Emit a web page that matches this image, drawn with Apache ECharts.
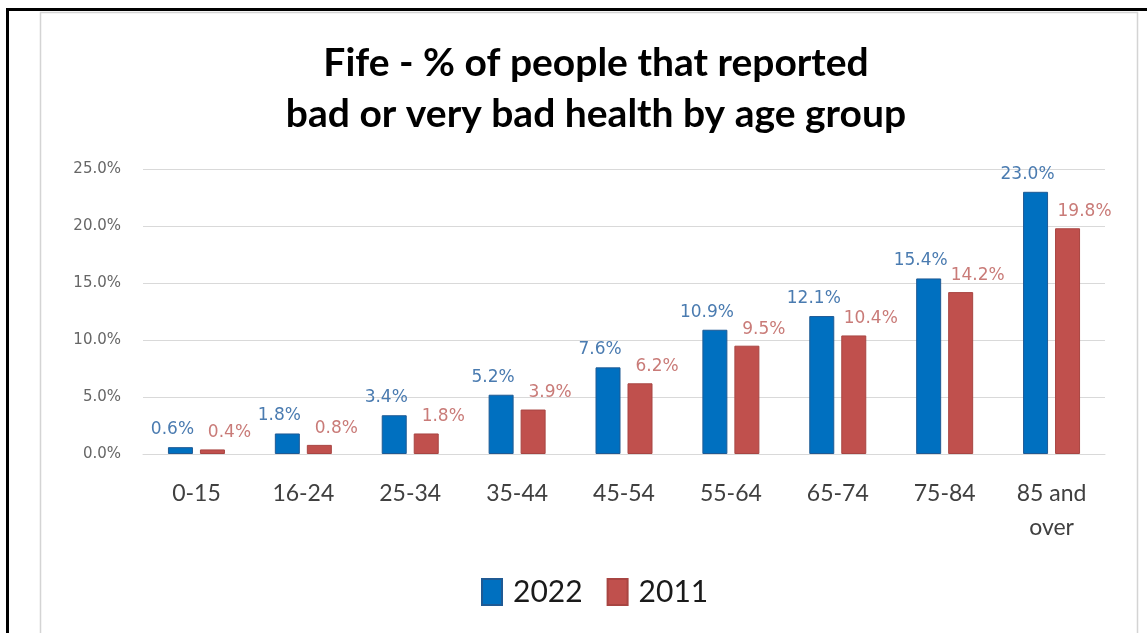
<!DOCTYPE html>
<html>
<head>
<meta charset="utf-8">
<script src="https://cdn.jsdelivr.net/npm/echarts@6/dist/echarts.min.js"></script>
<style>
  html, body { margin: 0; padding: 0; background: #ffffff; }
  #chart { width: 1147px; height: 633px; }
</style>
</head>
<body>
<div id="chart"></div>
<script>
// Age groups along the x axis
const ageGroups = ['0-15', '16-24', '25-34', '35-44', '45-54', '55-64', '65-74', '75-84', '85 and\nover'];
// % of people reporting bad or very bad health
const values2022 = [0.6, 1.8, 3.4, 5.2, 7.6, 10.9, 12.1, 15.4, 23.0];
const values2011 = [0.4, 0.8, 1.8, 3.9, 6.2, 9.5, 10.4, 14.2, 19.8];
// y axis ticks
const yTicks = [0, 5, 10, 15, 20, 25];

const chart = echarts.init(document.getElementById('chart'), null, { renderer: 'canvas' });

const pct = v => Number(v).toFixed(1) + '%';

chart.setOption({
  backgroundColor: '#ffffff',
  animation: false,
  title: {
    text: 'Fife - % of people that reported\nbad or very bad health by age group',
    left: 591,
    textAlign: 'center',
    top: 33,
    textStyle: {
      fontFamily: 'Lato',
      fontWeight: 'bold',
      fontSize: 39,
      lineHeight: 51,
      color: '#000000'
    }
  },
  graphic: [
    // outer frame (top and left edges)
    { type: 'rect', shape: { x: 7.5, y: 9.5, width: 1160, height: 700 },
      style: { fill: 'none', stroke: '#000000', lineWidth: 3 }, silent: true },
    // inner chart area border
    { type: 'rect', shape: { x: 40.5, y: 12.5, width: 1097, height: 700 },
      style: { fill: 'none', stroke: '#d4d4d4', lineWidth: 1.5 }, silent: true }
  ],
  legend: {
    data: ['2022', '2011'],
    bottom: 21,
    left: 476,
    itemWidth: 20,
    itemHeight: 26,
    itemGap: 24,
    icon: 'rect',
    textStyle: { fontFamily: 'Lato', fontSize: 30, color: '#1a1a1a', padding: [0, 0, 0, 6] }
  },
  grid: { left: 143, right: 42, top: 169, bottom: 179 },
  xAxis: {
    type: 'category',
    data: ageGroups,
    axisLine: { show: true, lineStyle: { color: '#d9d9d9', width: 1 } },
    axisTick: { show: false },
    axisLabel: {
      fontFamily: 'Lato',
      fontSize: 23,
      color: '#404040',
      margin: 23,
      lineHeight: 34,
      interval: 0
    }
  },
  yAxis: {
    type: 'value',
    min: yTicks[0],
    max: yTicks[yTicks.length - 1],
    interval: yTicks[1] - yTicks[0],
    axisLine: { show: false },
    axisTick: { show: false },
    splitLine: { lineStyle: { color: '#d9d9d9', width: 1 } },
    axisLabel: {
      formatter: v => pct(v),
      fontFamily: 'DejaVu Sans',
      fontSize: 15,
      color: '#666666',
      margin: 22
    }
  },
  series: [
    {
      name: '2022',
      type: 'bar',
      data: values2022,
      barWidth: 25,
      barGap: '28%',
      itemStyle: { color: '#0070c0', borderColor: '#1f5a94', borderWidth: 1 },
      label: {
        show: true,
        position: 'top',
        distance: 5,
        offset: [-8, -4],
        formatter: p => pct(p.value),
        fontFamily: 'DejaVu Sans',
        fontSize: 17,
        color: '#4a7bb0'
      }
    },
    {
      name: '2011',
      type: 'bar',
      data: values2011,
      barWidth: 25,
      itemStyle: { color: '#c0504d', borderColor: '#a84542', borderWidth: 1 },
      label: {
        show: true,
        position: 'top',
        distance: 5,
        offset: [17, -3],
        formatter: p => pct(p.value),
        fontFamily: 'DejaVu Sans',
        fontSize: 17,
        color: '#c97b78'
      }
    }
  ]
});
</script>
</body>
</html>
